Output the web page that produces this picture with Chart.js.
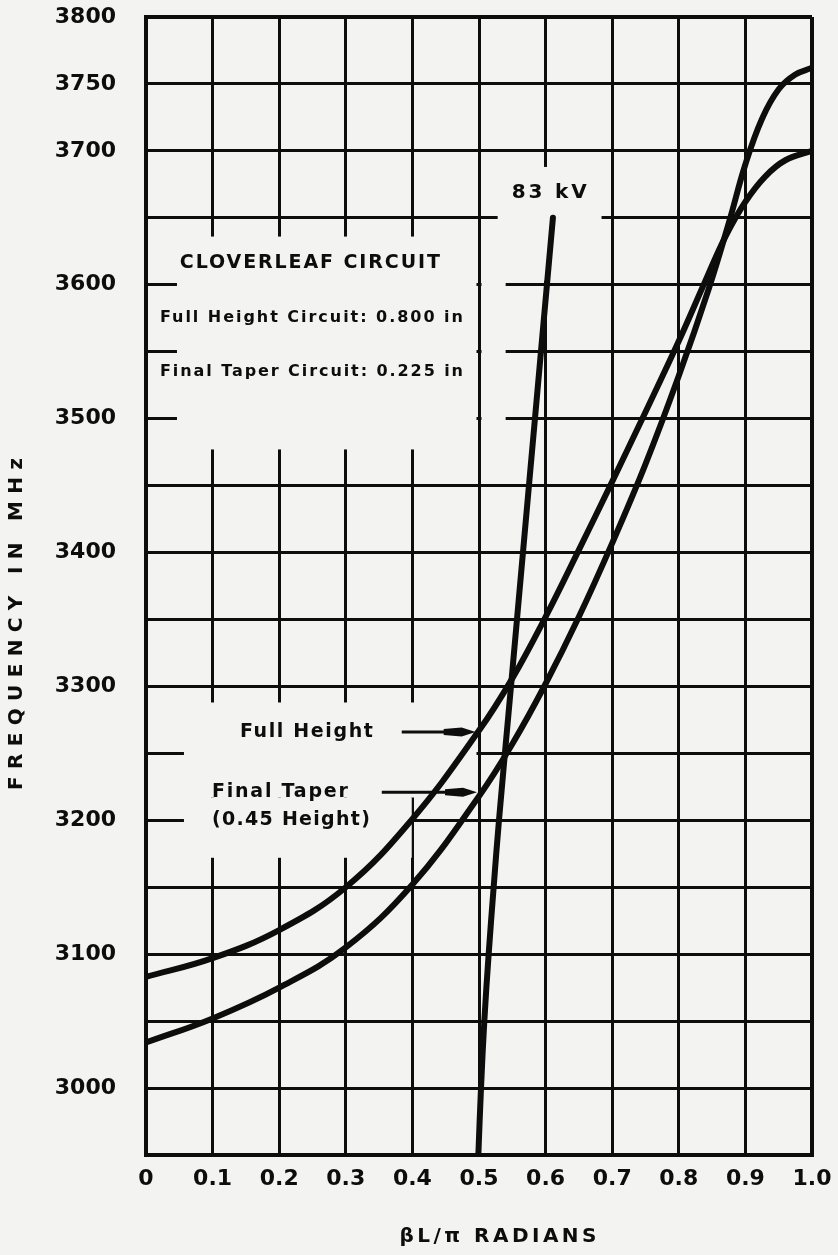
<!DOCTYPE html>
<html>
<head>
<meta charset="utf-8">
<script src="https://cdn.jsdelivr.net/npm/chart.js@4.4.1/dist/chart.umd.min.js"></script>
<style>
  html, body { margin: 0; padding: 0; background: #f3f3f1; }
  #wrap { width: 838px; height: 1255px; }
</style>
</head>
<body>
<div id="wrap"><canvas id="chart" width="838" height="1255"></canvas></div>
<script>
// values: phase is βL/π, frequency in MHz
const fullHeightPhase = [0, 0.1, 0.2, 0.3, 0.4, 0.5, 0.55, 0.6, 0.65, 0.7, 0.75, 0.8, 0.84, 0.87, 0.9, 0.93, 0.96, 1.0];
const fullHeightFreq  = [3083, 3097, 3118, 3150, 3201, 3267, 3306, 3352, 3402, 3453, 3505, 3558, 3603, 3636, 3662, 3681, 3693, 3700];

const finalTaperPhase = [0, 0.1, 0.2, 0.3, 0.4, 0.5, 0.55, 0.6, 0.65, 0.7, 0.75, 0.8, 0.845, 0.875, 0.9, 0.925, 0.95, 0.975, 1.0];
const finalTaperFreq  = [3034, 3052, 3075, 3105, 3152, 3218, 3257, 3302, 3352, 3407, 3466, 3532, 3597, 3646, 3690, 3724, 3746, 3757, 3762];

const beamPhase = [0.499, 0.503, 0.508, 0.5145, 0.522, 0.530, 0.548, 0.566, 0.584, 0.602, 0.611];
const beamFreq  = [2950, 3000, 3050, 3100, 3150, 3200, 3300, 3400, 3500, 3600, 3650];

const yTickLabels = [3000, 3100, 3200, 3300, 3400, 3500, 3600, 3700, 3750, 3800];

const INK = '#0d0d0d';
const PAPER = '#f3f3f1';
const FONT = '"DejaVu Sans", sans-serif';

// parts of the grid that are blank in the original (behind the captions)
const gridGaps = [
    { x0: 0.0465, x1: 0.5, y0: 3636, y1: 3477 },
    { x0: 0.5, x1: 0.540, y0: 3636, y1: 3477 },
    { x0: 0.528, x1: 0.684, y0: 3688, y1: 3633 },
    { x0: 0.594, x1: 0.606, y0: 3636, y1: 3603 },
    { x0: 0.057, x1: 0.5, y0: 3288, y1: 3217 },
    { x0: 0.057, x1: 0.399, y0: 3217, y1: 3172 }
];

// captions: position in data units, font size, width to spread the text over
const captions = [
    { text: 'CLOVERLEAF CIRCUIT', x: 0.246, y: 3616, size: 19, width: 260, align: 'center' },
    { text: 'Full Height Circuit: 0.800 in', x: 0.021, y: 3575, size: 16, width: 303, align: 'left' },
    { text: 'Final Taper Circuit: 0.225 in', x: 0.021, y: 3535, size: 16, width: 303, align: 'left' },
    { text: '83 kV', x: 0.549, y: 3669, size: 20, width: 75, align: 'left' },
    { text: 'Full Height', x: 0.141, y: 3266, size: 19, width: 133, align: 'left' },
    { text: 'Final Taper', x: 0.099, y: 3221, size: 19, width: 136, align: 'left' },
    { text: '(0.45 Height)', x: 0.099, y: 3200, size: 19, width: 158, align: 'left' }
];

const arrows = [
    { from: 0.384, to: 0.495, y: 3266 },
    { from: 0.354, to: 0.497, y: 3221 }
];

function toPoints(xs, ys) {
    return xs.map((x, i) => ({ x: x, y: ys[i] }));
}

function spacedText(ctx, text, px, py, size, width, align, rotate) {
    ctx.save();
    ctx.font = 'bold ' + size + 'px ' + FONT;
    ctx.fillStyle = INK;
    ctx.textBaseline = 'middle';
    ctx.textAlign = 'left';
    ctx.letterSpacing = '0px';
    const natural = ctx.measureText(text).width;
    const spacing = (width - natural) / (text.length - 1);
    ctx.letterSpacing = spacing.toFixed(2) + 'px';
    ctx.translate(px, py);
    if (rotate) ctx.rotate(-Math.PI / 2);
    const left = align === 'center' ? -width / 2 : 0;
    ctx.fillText(text, left, 0);
    ctx.restore();
}

// a gap edge that sits on a grid value stops short of that grid line
function gapEdge(value, pixel, step, side) {
    const onLine = Math.abs(value / step - Math.round(value / step)) < 1e-6;
    return onLine ? pixel + side * 2.5 : pixel;
}

const paperPlugin = {
    id: 'paper',
    beforeDraw(chart) {
        const ctx = chart.ctx;
        ctx.save();
        ctx.fillStyle = PAPER;
        ctx.fillRect(0, 0, chart.width, chart.height);
        ctx.restore();
    },
    beforeDatasetsDraw(chart) {
        const { ctx, scales: { x, y } } = chart;
        ctx.save();
        ctx.fillStyle = PAPER;
        gridGaps.forEach(g => {
            const left = gapEdge(g.x0, x.getPixelForValue(g.x0), 0.1, 1);
            const right = gapEdge(g.x1, x.getPixelForValue(g.x1), 0.1, -1);
            const top = y.getPixelForValue(g.y0);
            const bottom = y.getPixelForValue(g.y1);
            ctx.fillRect(left, top, right - left, bottom - top);
        });
        ctx.restore();
    },
    afterDatasetsDraw(chart) {
        const { ctx, scales: { x, y } } = chart;
        captions.forEach(c => {
            spacedText(ctx, c.text, x.getPixelForValue(c.x), y.getPixelForValue(c.y), c.size, c.width, c.align, false);
        });

        ctx.save();
        ctx.strokeStyle = INK;
        ctx.fillStyle = INK;
        ctx.lineWidth = 3;
        arrows.forEach(a => {
            const x0 = x.getPixelForValue(a.from);
            const x1 = x.getPixelForValue(a.to);
            const py = y.getPixelForValue(a.y);
            ctx.beginPath();
            ctx.moveTo(x0, py);
            ctx.lineTo(x1 - 20, py);
            ctx.stroke();
            ctx.beginPath();
            ctx.moveTo(x1, py);
            ctx.lineTo(x1 - 14, py - 4.5);
            ctx.lineTo(x1 - 32, py - 3);
            ctx.lineTo(x1 - 32, py + 3);
            ctx.lineTo(x1 - 14, py + 4.5);
            ctx.closePath();
            ctx.fill();
        });
        ctx.restore();
    },
    afterDraw(chart) {
        const { ctx } = chart;
        spacedText(ctx, 'FREQUENCY IN MHz', 17, 624, 20, 332, 'center', true);
        spacedText(ctx, 'βL/π RADIANS', 498, 1237, 20, 197, 'center', false);
    }
};

function lineSet(label, points, width) {
    return {
        label: label,
        data: points,
        showLine: true,
        borderColor: INK,
        backgroundColor: INK,
        borderWidth: width,
        borderCapStyle: 'round',
        borderJoinStyle: 'round',
        pointRadius: 0,
        tension: 0.4,
        fill: false
    };
}

const gridWidth = (ctx) => {
    const last = ctx.scale.ticks.length - 1;
    return (ctx.index === 0 || ctx.index === last) ? 4 : 3;
};

const chart = new Chart(document.getElementById('chart').getContext('2d'), {
    type: 'scatter',
    data: {
        datasets: [
            lineSet('Full Height', toPoints(fullHeightPhase, fullHeightFreq), 6),
            lineSet('Final Taper (0.45 Height)', toPoints(finalTaperPhase, finalTaperFreq), 6),
            lineSet('83 kV', toPoints(beamPhase, beamFreq), 6)
        ]
    },
    options: {
        responsive: false,
        animation: false,
        layout: { padding: { top: 17, right: 26, left: 0, bottom: 0 } },
        plugins: {
            legend: { display: false },
            tooltip: { enabled: false }
        },
        scales: {
            x: {
                type: 'linear',
                min: 0,
                max: 1,
                afterFit: (scale) => {
                    scale.height = 100;
                    scale.paddingLeft = 0;
                    scale.paddingRight = 0;
                },
                grid: { color: INK, lineWidth: gridWidth, drawTicks: false },
                border: { color: INK, width: 4 },
                ticks: {
                    stepSize: 0.1,
                    autoSkip: false,
                    maxRotation: 0,
                    padding: 11,
                    color: INK,
                    font: { family: FONT, size: 22, weight: 'bold' },
                    callback: (v) => v === 0 ? '0' : Number(v).toFixed(1)
                }
            },
            y: {
                type: 'linear',
                min: 2950,
                max: 3800,
                afterFit: (scale) => {
                    scale.width = 146;
                    scale.paddingTop = 0;
                    scale.paddingBottom = 0;
                },
                grid: { color: INK, lineWidth: gridWidth, drawTicks: false },
                border: { color: INK, width: 4 },
                ticks: {
                    stepSize: 50,
                    autoSkip: false,
                    padding: 30,
                    color: INK,
                    font: { family: FONT, size: 22, weight: 'bold' },
                    callback: (v) => yTickLabels.includes(Math.round(v)) ? String(Math.round(v)) : ''
                }
            }
        }
    },
    plugins: [paperPlugin]
});
</script>
</body>
</html>
